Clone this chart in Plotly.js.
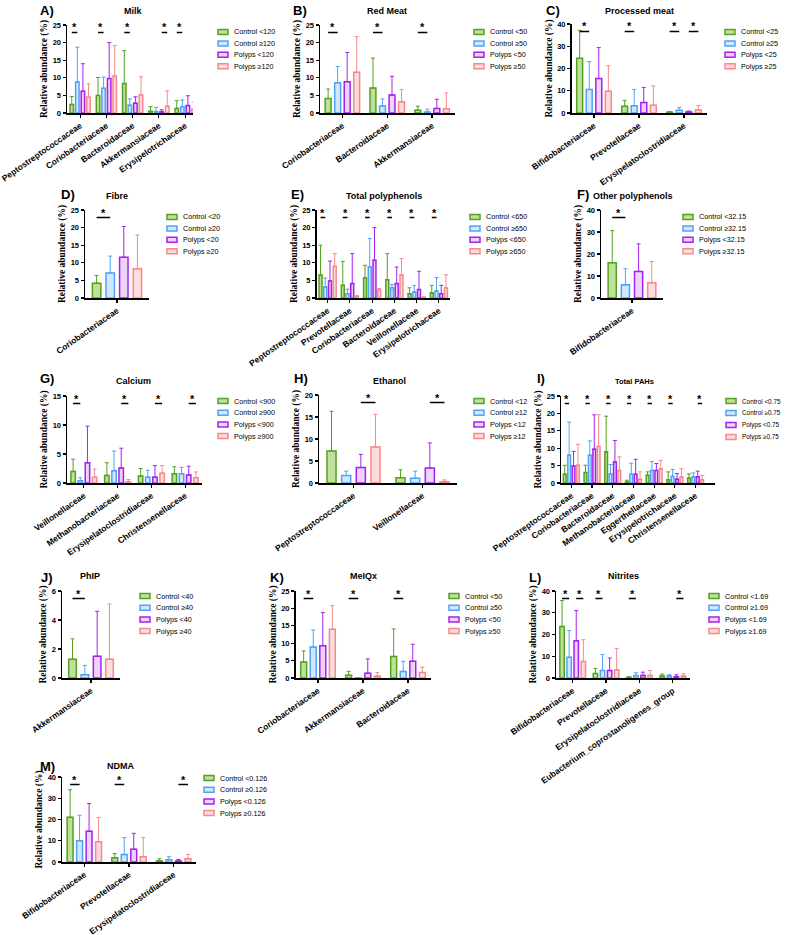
<!DOCTYPE html>
<html><head><meta charset="utf-8">
<script src="https://cdn.plot.ly/plotly-3.0.1.min.js"></script>
<style>html,body{margin:0;padding:0;background:#fff}#chart{width:785px;height:935px}</style>
</head><body><div id="chart"></div>
<script>
// ---------------- DATA ----------------
const milkCategories = ['Peptostreptococcaceae','Coriobacteriaceae','Bacteroidaceae','Akkermansiaceae','Erysipelotrichaceae'];
const milkSeries = ['Control <120','Control ≥120','Polyps <120','Polyps ≥120'];
const milkMean  = [[2.4,5.0,8.4,0.5,1.3],[8.8,7.0,2.2,0.4,1.8],[6.2,9.8,2.8,0.3,2.1],[4.5,10.5,5.1,1.9,1.1]];
const milkUpper = [[4.7,10.1,17.7,1.8,3.5],[18.7,10.2,4.0,1.6,3.7],[14.0,20.0,4.6,0.9,4.9],[8.3,19.2,10.3,6.3,3.1]];
const milkSig = [[0,0],[1,0],[2,0],[3,1],[4,0]];

const meatCategories = ['Coriobacteriaceae','Bacteroidaceae','Akkermansiaceae'];
const meatSeries = ['Control <50','Control ≥50','Polyps <50','Polyps ≥50'];
const meatMean  = [[4.1,7.1,0.8],[8.6,2.0,0.3],[8.9,5.1,1.3],[11.6,3.2,1.2]];
const meatUpper = [[6.8,15.6,1.9],[13.2,4.0,1.1],[17.2,10.4,3.9],[21.7,6.7,5.7]];
const meatSig = [[0,0],[1,0],[2,0]];

const procCategories = ['Bifidobacteriaceae','Prevotellaceae','Erysipelatoclostridiaceae'];
const procSeries = ['Control <25','Control ≥25','Polyps <25','Polyps ≥25'];
const procMean  = [[24.6,3.0,0.3],[10.6,3.3,1.2],[15.5,4.7,0.4],[9.8,3.5,1.4]];
const procUpper = [[37.1,5.7,0.6],[23.1,10.6,2.5],[29.4,11.5,0.9],[21.3,12.2,3.4]];
const procSig = [[0,0],[1,0],[2,0],[2,1]];

const fibreCategories = ['Coriobacteriaceae'];
const fibreSeries = ['Control <20','Control ≥20','Polyps <20','Polyps ≥20'];
const fibreMean  = [[4.2],[7.1],[11.6],[8.3]];
const fibreUpper = [[6.4],[11.9],[20.3],[17.9]];
const fibreSig = [[0,0]];

const polyCategories = ['Peptostreptococcaceae','Prevotellaceae','Coriobacteriaceae','Bacteroidaceae','Veillonellaceae','Erysipelotrichaceae'];
const polySeries = ['Control <650','Control ≥650','Polyps <650','Polyps ≥650'];
const polyMean  = [[6.5,3.6,5.7,5.2,1.2,1.5],[3.1,1.2,8.8,2.9,1.7,2.0],[4.8,4.1,10.7,4.1,2.4,1.2],[9.0,0.5,2.2,6.6,0.2,2.9]];
const polyUpper = [[15.0,10.4,9.3,12.6,2.9,3.6],[5.7,2.5,16.9,3.8,3.6,5.8],[10.5,12.6,20.0,8.8,7.6,3.6],[12.6,0.6,2.7,11.2,0.3,6.6]];
const polySig = [[0,0],[1,0],[2,0],[3,0],[4,0],[5,0]];

const otherCategories = ['Bifidobacteriaceae'];
const otherSeries = ['Control <32.15','Control ≥32.15','Polyps <32.15','Polyps ≥32.15'];
const otherMean  = [[16.0],[6.0],[12.1],[6.9]];
const otherUpper = [[30.6],[13.3],[24.6],[16.6]];
const otherSig = [[0,0]];

const calcCategories = ['Veillonellaceae','Methanobacteriaceae','Erysipelatoclostridiaceae','Christensenellaceae'];
const calcSeries = ['Control <900','Control ≥900','Polyps <900','Polyps ≥900'];
const calcMean  = [[2.0,1.3,1.2,1.6],[0.4,2.1,1.0,1.6],[3.5,2.6,1.0,1.4],[1.0,0.2,1.7,0.9]];
const calcUpper = [[4.1,3.5,2.5,2.8],[0.9,5.5,2.2,2.7],[9.8,6.0,3.0,2.9],[2.4,0.6,3.0,1.9]];
const calcSig = [[0,0],[1,1],[2,1],[3,1]];

const ethCategories = ['Peptostreptococcaceae','Veillonellaceae'];
const ethSeries = ['Control <12','Control ≥12','Polyps <12','Polyps ≥12'];
const ethMean  = [[7.3,1.2],[1.7,1.1],[3.5,3.4],[8.2,0.3]];
const ethUpper = [[16.3,3.0],[2.7,2.7],[6.5,9.1],[15.6,0.7]];
const ethSig = [[0,1],[1,1]];

const pahCategories = ['Peptostreptococcaceae','Coriobacteriaceae','Bacteroidaceae','Methanobacteriaceae','Eggerthellaceae','Erysipelotrichaceae','Christensenellaceae'];
const pahSeries = ['Control <0.75','Control ≥0.75','Polyps <0.75','Polyps ≥0.75'];
const pahMean  = [[2.5,3.0,9.0,0.3,2.2,0.9,1.4],[8.0,8.0,2.6,2.5,3.6,1.9,1.7],[4.9,9.7,6.0,2.5,3.6,1.1,1.8],[5.1,10.5,3.6,1.1,4.1,1.7,0.9]];
const pahUpper = [[5.1,5.1,19.2,0.8,3.2,3.2,2.6],[17.5,12.1,5.3,5.7,6.2,3.9,2.9],[9.1,19.6,12.2,6.8,5.6,2.7,3.4],[11.1,19.6,7.5,3.2,6.5,4.1,2.2]];
const pahSig = [[0,0],[1,0],[2,0],[3,0],[4,0],[5,0],[6,1]];

const phipCategories = ['Akkermansiaceae'];
const phipSeries = ['Control <40','Control ≥40','Polyps <40','Polyps ≥40'];
const phipMean  = [[1.3],[0.23],[1.5],[1.3]];
const phipUpper = [[2.7],[0.87],[4.6],[5.1]];
const phipSig = [[0,0]];

const meiqxCategories = ['Coriobacteriaceae','Akkermansiaceae','Bacteroidaceae'];
const meiqxSeries = ['Control <50','Control ≥50','Polyps <50','Polyps ≥50'];
const meiqxMean  = [[4.6,0.8,6.2],[8.9,0.05,1.9],[9.3,1.4,4.8],[14.0,0.5,1.6]];
const meiqxUpper = [[7.8,1.9,14.1],[13.8,0.1,4.8],[18.8,5.5,9.7],[20.8,1.6,3.1]];
const meiqxSig = [[0,0],[1,0],[2,0]];

const nitCategories = ['Bifidobacteriaceae','Prevotellaceae','Erysipelatoclostridiaceae','Eubacterium_coprostanoligenes_group'];
const nitSeries = ['Control <1.69','Control ≥1.69','Polyps <1.69','Polyps ≥1.69'];
const nitMean  = [[23.7,2.1,0.3,0.9],[9.5,3.5,1.1,0.9],[17.1,3.4,1.2,0.6],[7.6,3.7,1.2,0.9]];
const nitUpper = [[35.6,4.4,0.5,1.8],[21.8,10.8,2.4,1.5],[31.0,9.2,2.7,1.5],[17.6,13.6,3.4,2.0]];
const nitSig = [[0,0],[0,1],[1,0],[2,0],[3,1]];

const ndmaCategories = ['Bifidobacteriaceae','Prevotellaceae','Erysipelatoclostridiaceae'];
const ndmaSeries = ['Control <0.126','Control ≥0.126','Polyps <0.126','Polyps ≥0.126'];
const ndmaMean  = [[21.0,2.0,0.5],[10.0,3.5,1.0],[14.5,6.0,0.5],[9.5,2.5,1.5]];
const ndmaUpper = [[34.0,4.0,1.5],[22.0,11.5,2.5],[27.5,13.5,1.2],[21.0,11.5,3.5]];
const ndmaSig = [[0,0],[1,0],[2,1]];

// ---------------- LAYOUT / STYLE ----------------
const W = 785, H = 935;
const FONT = 'Liberation Sans, Arial, sans-serif';
const SERIF = 'Liberation Serif, Times New Roman, serif';
const outline = ['#55a022','#4fa3f7','#a521ee','#f5898b'];
const fill = ['#bfe09a','#d3e7fc','#ecd3f8','#fcdcdc'];

const panels = [
 {cats:milkCategories, series:milkSeries, mean:milkMean, upper:milkUpper, sig:milkSig, title:'Milk', letter:'A)',
  g:{x0:67,x1:193,xend:4.3,yt:25,yb:113,ymax:25,dtick:5,tx:133,ty:11,lx:47,ly:10,legx:218,legy:32,legdy:11.4}},
 {cats:meatCategories, series:meatSeries, mean:meatMean, upper:meatUpper, sig:meatSig, title:'Red Meat', letter:'B)',
  g:{x0:320,x1:454.5,xend:2.5,yt:25,yb:113,ymax:25,dtick:5,tx:387,ty:11,lx:300,ly:10,legx:474,legy:32,legdy:11.4}},
 {cats:procCategories, series:procSeries, mean:procMean, upper:procUpper, sig:procSig, title:'Processed meat', letter:'C)',
  g:{x0:571.5,x1:706.5,xend:2.5,yt:24,yb:113,ymax:40,dtick:10,tx:639,ty:11,lx:553,ly:10,legx:725,legy:32,legdy:11.4}},
 {cats:fibreCategories, series:fibreSeries, mean:fibreMean, upper:fibreUpper, sig:fibreSig, title:'Fibre', letter:'D)',
  g:{x0:85,x1:149,xend:0.5,yt:210,yb:298,ymax:25,dtick:5,tx:117,ty:196,lx:68,ly:195,legx:167,legy:217,legdy:11.4}},
 {cats:polyCategories, series:polySeries, mean:polyMean, upper:polyUpper, sig:polySig, title:'Total polyphenols', letter:'E)',
  g:{x0:316.5,x1:450,xend:5.5,yt:210,yb:298,ymax:25,dtick:5,tx:384,ty:196,lx:297,ly:195,legx:470,legy:217,legdy:11.4}},
 {cats:otherCategories, series:otherSeries, mean:otherMean, upper:otherUpper, sig:otherSig, title:'Other polyphenols', letter:'F)',
  g:{x0:601,x1:663,xend:0.5,yt:210,yb:298,ymax:40,dtick:10,tx:633,ty:196,lx:583,ly:195,legx:683,legy:217,legdy:11.4}},
 {cats:calcCategories, series:calcSeries, mean:calcMean, upper:calcUpper, sig:calcSig, title:'Calcium', letter:'G)',
  g:{x0:67,x1:202,xend:3.5,yt:396,yb:483,ymax:15,dtick:5,tx:133,ty:381,lx:47,ly:379,legx:218,legy:401,legdy:11.7}},
 {cats:ethCategories, series:ethSeries, mean:ethMean, upper:ethUpper, sig:ethSig, title:'Ethanol', letter:'H)',
  g:{x0:319,x1:457,xend:1.5,yt:395,yb:483,ymax:20,dtick:5,tx:389,ty:381,lx:301,ly:379,legx:474,legy:401,legdy:11.7}},
 {cats:pahCategories, series:pahSeries, mean:pahMean, upper:pahUpper, sig:pahSig, title:'Total PAHs', letter:'I)', tsize:7.5, lsize:6.4,
  g:{x0:561,x1:715,xend:6.94,yt:396,yb:483,ymax:25,dtick:5,tx:634,ty:381,lx:541,ly:379,legx:726,legy:401,legdy:12}},
 {cats:phipCategories, series:phipSeries, mean:phipMean, upper:phipUpper, sig:phipSig, title:'PhIP', letter:'J)',
  g:{x0:62,x1:120,xend:0.5,yt:591,yb:678,ymax:6,dtick:2,tx:90,ty:576,lx:47,ly:577,legx:140,legy:596,legdy:11.7}},
 {cats:meiqxCategories, series:meiqxSeries, mean:meiqxMean, upper:meiqxUpper, sig:meiqxSig, title:'MeIQx', letter:'K)',
  g:{x0:295.5,x1:430.5,xend:2.5,yt:591,yb:678,ymax:25,dtick:5,tx:363,ty:576,lx:277,ly:577,legx:449,legy:596,legdy:11.7}},
 {cats:nitCategories, series:nitSeries, mean:nitMean, upper:nitUpper, sig:nitSig, title:'Nitrites', letter:'L)',
  g:{x0:556,x1:689.5,xend:3.5,yt:591,yb:678,ymax:40,dtick:10,tx:623,ty:576,lx:535,ly:577,legx:709,legy:596,legdy:11.7}},
 {cats:ndmaCategories, series:ndmaSeries, mean:ndmaMean, upper:ndmaUpper, sig:ndmaSig, title:'NDMA', letter:'M)',
  g:{x0:62,x1:196,xend:2.5,yt:777,yb:862,ymax:40,dtick:10,tx:120,ty:766,lx:47,ly:766,legx:204,legy:778,legdy:11.7}}
];

const BARGAP = 0.15, GROUPGAP = 0.38;
const pitch = (1 - BARGAP) / 4;
const esc = t => t.replace(/</g,'&lt;').replace(/>/g,'&gt;');

const data = [], shapes = [], annotations = [];
const layout = {
  width: W, height: H, margin:{l:0,r:0,t:0,b:0},
  paper_bgcolor:'#fff', plot_bgcolor:'rgba(0,0,0,0)',
  barmode:'group', bargap:BARGAP, bargroupgap:GROUPGAP,
  showlegend:false, font:{family:FONT, color:'#000'}
};

panels.forEach((p, i) => {
  const s = i === 0 ? '' : String(i + 1);
  const g = p.g;
  const axPx = g.yb - g.yt;
  layout['xaxis' + s] = {
    domain:[g.x0 / W, g.x1 / W], anchor:'y' + s, type:'category', range:[-0.5, g.xend],
    showline:true, linecolor:'#000', linewidth:1.5, ticks:'outside', ticklen:3, tickwidth:1.2, tickcolor:'#000',
    tickangle:-35, tickfont:{family:FONT, size:8.5, color:'#000', weight:700},
    showgrid:false, zeroline:false, fixedrange:true, automargin:false
  };
  layout['yaxis' + s] = {
    domain:[1 - g.yb / H, 1 - g.yt / H], anchor:'x' + s, range:[0, g.ymax], dtick:g.dtick, tick0:0,
    showline:true, linecolor:'#000', linewidth:1.5, ticks:'outside', ticklen:3, tickwidth:1.2, tickcolor:'#000',
    tickfont:{family:FONT, size:7.5, color:'#000', weight:700},
    showgrid:false, zeroline:false, fixedrange:true, automargin:false,
    title:{text:'Relative abundance (%)', font:{family:SERIF, size:9.5, color:'#000', weight:700}, standoff:3}
  };
  p.mean.forEach((m, k) => {
    data.push({
      type:'bar', x:p.cats, y:m, xaxis:'x' + s, yaxis:'y' + s, name:p.series[k], showlegend:false,
      marker:{color:fill[k], line:{color:outline[k], width:1.5}},
      error_y:{type:'data', symmetric:false, array:m.map((v, j) => p.upper[k][j] - v), arrayminus:m.map(() => 0),
               color:outline[k], thickness:1, width:2}
    });
  });
  // significance markers
  const yLine = g.ymax * (1 - 7.5 / axPx);
  const yStar = g.ymax * (1 - 2.5 / axPx);
  p.sig.forEach(([c, pair]) => {
    const a = c + (pair === 0 ? -1.5 : 0.5) * pitch;
    const b = a + pitch;
    shapes.push({type:'line', xref:'x' + s, yref:'y' + s, x0:a, x1:b, y0:yLine, y1:yLine, line:{color:'#000', width:1.5}});
    annotations.push({xref:'x' + s, yref:'y' + s, x:(a + b) / 2, y:yStar, text:'*', showarrow:false,
      xanchor:'center', yanchor:'middle', font:{family:FONT, size:11, color:'#000', weight:700}});
  });
  // legend (manual)
  p.series.forEach((name, k) => {
    const yy = g.legy + k * g.legdy;
    shapes.push({type:'rect', xref:'paper', yref:'paper', x0:g.legx / W, x1:(g.legx + 10) / W,
      y0:1 - (yy - 2.5) / H, y1:1 - (yy + 2.5) / H, fillcolor:fill[k], line:{color:outline[k], width:1.5}});
    annotations.push({xref:'paper', yref:'paper', x:(g.legx + 14) / W, y:1 - yy / H, text:esc(name), showarrow:false,
      xanchor:'left', yanchor:'middle', font:{family:FONT, size:p.lsize || 7.2, color:'#000'}});
  });
  // title and letter
  annotations.push({xref:'paper', yref:'paper', x:g.tx / W, y:1 - g.ty / H, text:p.title, showarrow:false,
    xanchor:'center', yanchor:'middle', font:{family:FONT, size:p.tsize || 9, color:'#000', weight:700}});
  annotations.push({xref:'paper', yref:'paper', x:g.lx / W, y:1 - g.ly / H, text:p.letter, showarrow:false,
    xanchor:'center', yanchor:'middle', font:{family:FONT, size:13, color:'#000', weight:700}});
});

layout.shapes = shapes;
layout.annotations = annotations;
Plotly.newPlot('chart', data, layout, {staticPlot:true, displayModeBar:false});
</script>
</body></html>
